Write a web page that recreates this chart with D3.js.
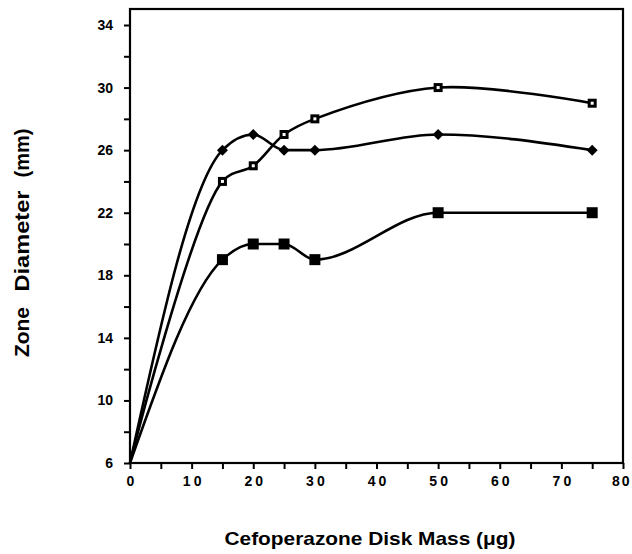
<!DOCTYPE html>
<html><head><meta charset="utf-8">
<script src="https://cdn.jsdelivr.net/npm/d3@7"></script>
<style>body{margin:0;background:#fff}</style>
</head><body>
<svg id="c" width="632" height="554"></svg>
<script>
const diskMass = [0, 15, 20, 25, 30, 50, 75];
const seriesDiamond = [6, 26, 27, 26, 26, 27, 26];
const seriesOpenSquare = [6, 24, 25, 27, 28, 30, 29];
const seriesFilledSquare = [6, 19, 20, 20, 19, 22, 22];
const xTicks = [0, 10, 20, 30, 40, 50, 60, 70, 80];
const yTicks = [6, 10, 14, 18, 22, 26, 30, 34];

const svg = d3.select("#c");
const L = 130, R = 623, T = 9, B = 463;
const x = d3.scaleLinear().domain([0, 80]).range([L, R]);
const y = d3.scaleLinear().domain([6, 34]).range([B, 25]);
const font = "'Liberation Sans', Arial, sans-serif";

// frame
svg.append("rect").attr("x", L).attr("y", T).attr("width", R - L).attr("height", B - T)
  .attr("fill", "none").attr("stroke", "#000").attr("stroke-width", 2.2);

// x axis
const xa = svg.append("g").attr("transform", `translate(0,${B})`)
  .call(d3.axisBottom(x).tickValues(d3.range(0, 81, 5)).tickSize(6)
    .tickFormat(d => xTicks.includes(d) ? String(d) : ""));
xa.select(".domain").remove();
xa.selectAll("line").attr("stroke-width", 2);
xa.selectAll("text").attr("font-family", font).attr("font-weight", "bold").attr("font-size", 14)
  .attr("letter-spacing", 3).attr("dx", 1.5).attr("y", 12).attr("dy", "0.8em").attr("fill", "#000");
xa.selectAll(".tick").filter(d => d === 80).select("text")
  .attr("text-anchor", "end").attr("dx", 0).attr("letter-spacing", 2).attr("x", 8);

// y axis
const ya = svg.append("g").attr("transform", `translate(${L},0)`)
  .call(d3.axisLeft(y).tickValues(d3.range(6, 35, 2)).tickSize(6)
    .tickFormat(d => yTicks.includes(d) ? d : ""));
ya.select(".domain").remove();
ya.selectAll("line").attr("stroke-width", 2);
ya.selectAll("text").attr("font-family", font).attr("font-weight", "bold").attr("font-size", 14)
  .attr("x", -17).attr("fill", "#000");

const series = [
  {vals: seriesDiamond, curve: d3.curveMonotoneX, marker: "diamond"},
  {vals: seriesOpenSquare, curve: d3.curveCatmullRom, marker: "open"},
  {vals: seriesFilledSquare, curve: d3.curveMonotoneX, marker: "filled"}
];

series.forEach(s => {
  const pts = diskMass.map((m, i) => [m, s.vals[i]]);
  svg.append("path").datum(pts)
    .attr("d", d3.line().x(d => x(d[0])).y(d => y(d[1])).curve(s.curve))
    .attr("fill", "none").attr("stroke", "#000").attr("stroke-width", 2.6);
  const g = svg.append("g");
  pts.slice(1).forEach(p => {
    const cx = x(p[0]), cy = y(p[1]);
    if (s.marker === "diamond") {
      g.append("path").attr("d", `M${cx},${cy-5.5}L${cx+5.5},${cy}L${cx},${cy+5.5}L${cx-5.5},${cy}Z`).attr("fill", "#000");
    } else if (s.marker === "filled") {
      g.append("rect").attr("x", cx - 5.5).attr("y", cy - 5.5).attr("width", 11).attr("height", 11).attr("fill", "#000");
    } else {
      g.append("rect").attr("x", cx - 4.5).attr("y", cy - 4.5).attr("width", 9).attr("height", 9).attr("fill", "#000");
      g.append("rect").attr("x", cx - 1.5).attr("y", cy - 1.5).attr("width", 3).attr("height", 3).attr("fill", "#fff");
    }
  });
});

// titles
svg.append("text").attr("x", 370).attr("y", 545).attr("text-anchor", "middle")
  .attr("font-family", font).attr("font-weight", "bold").attr("font-size", 19)
  .attr("textLength", 291).attr("lengthAdjust", "spacingAndGlyphs")
  .text("Cefoperazone Disk Mass (μg)");
const yWords = [["Zone", 332, 50], ["Diameter", 241, 101], ["(mm)", 153, 49]];
yWords.forEach(([w, cy, len]) => {
  svg.append("text").attr("transform", `translate(29,${cy}) rotate(-90)`).attr("text-anchor", "middle")
    .attr("font-family", font).attr("font-weight", "bold").attr("font-size", 20)
    .attr("textLength", len).attr("lengthAdjust", "spacingAndGlyphs").text(w);
});
</script>
</body></html>
